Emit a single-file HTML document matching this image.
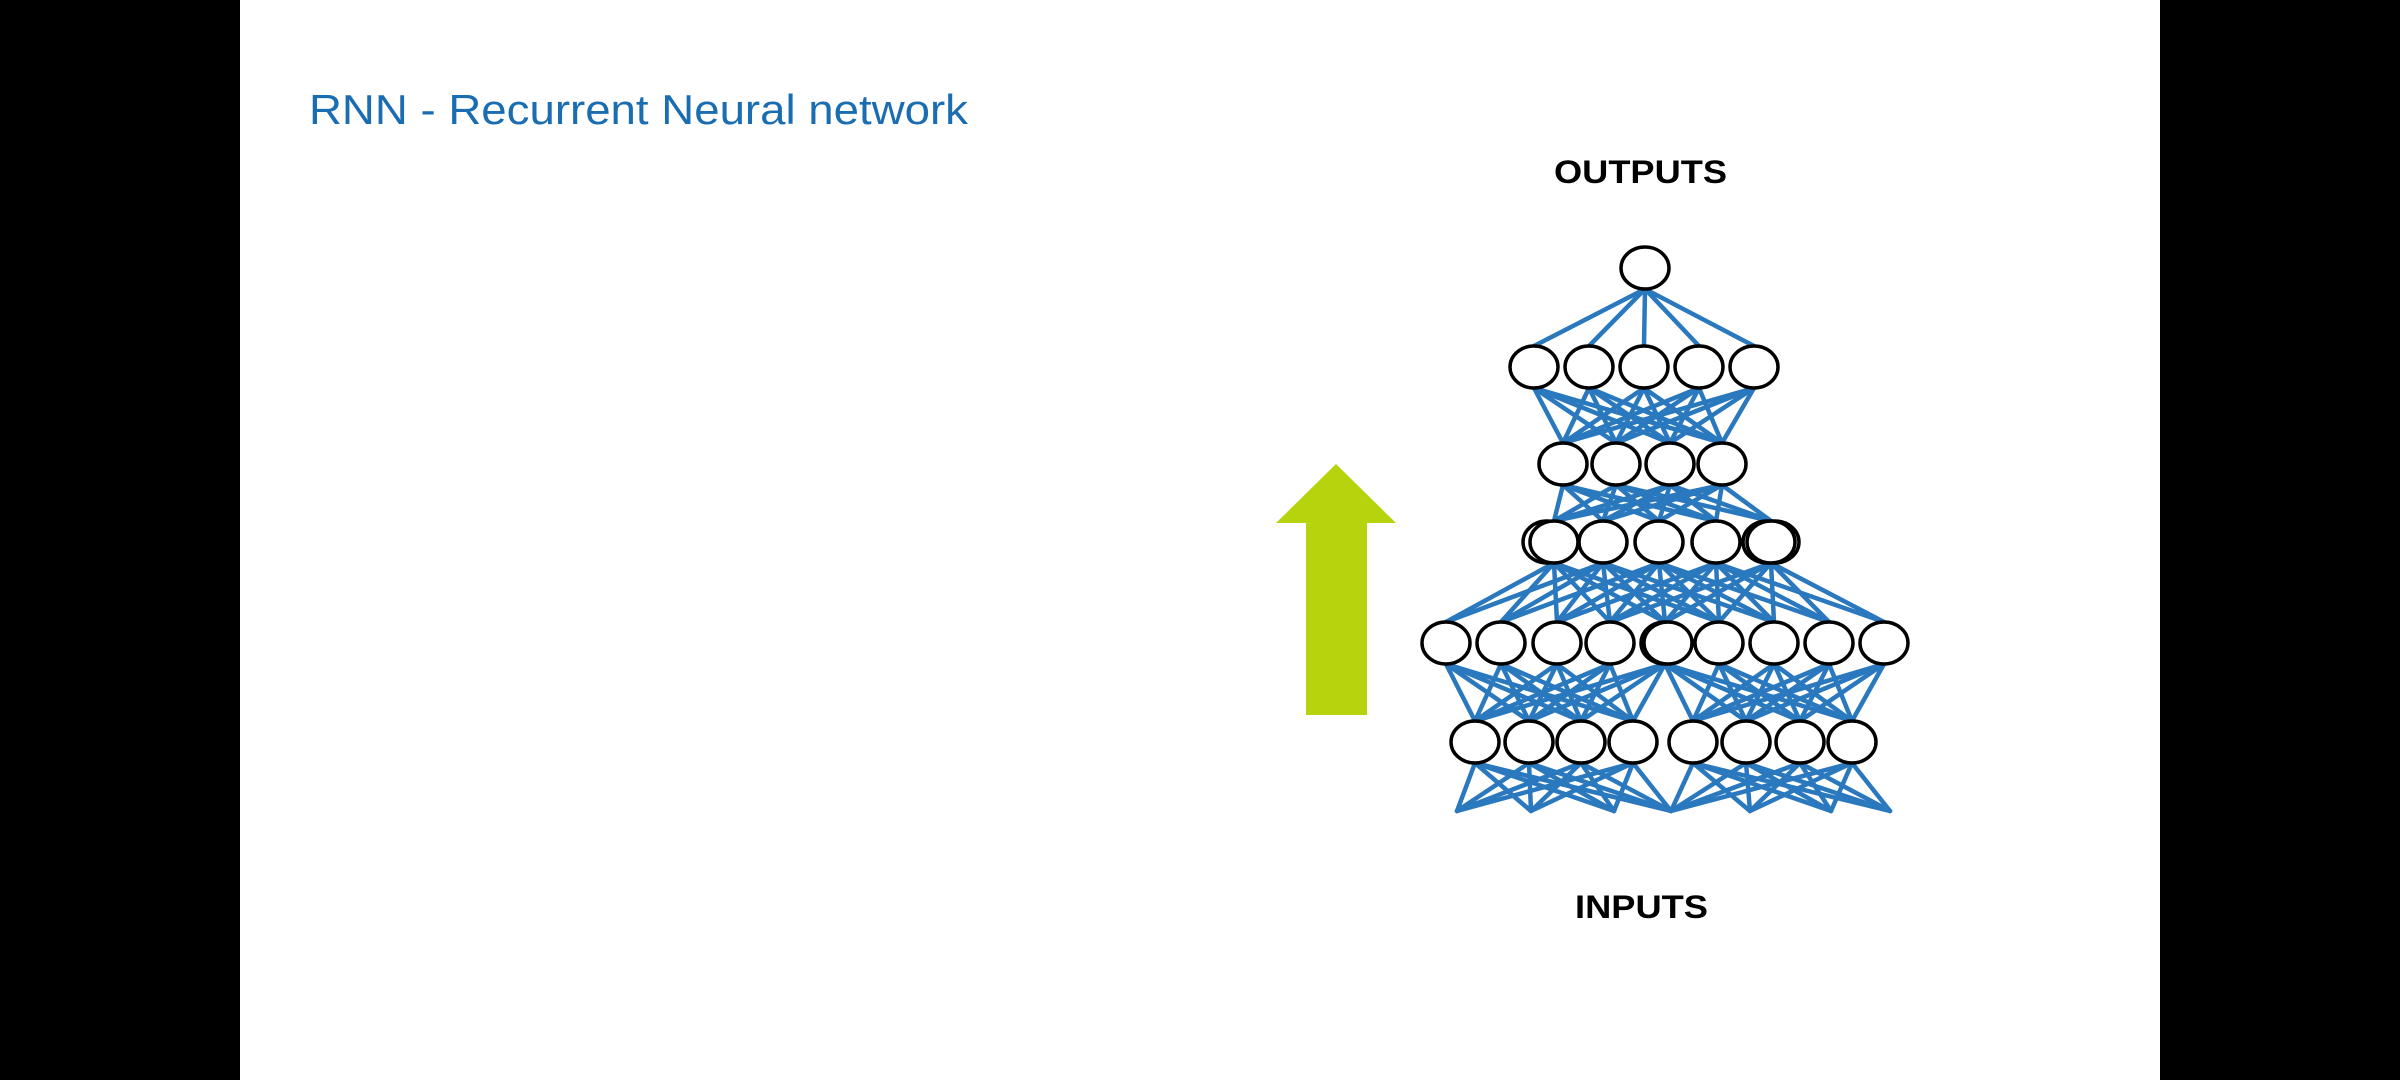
<!DOCTYPE html>
<html><head><meta charset="utf-8"><style>
html,body{margin:0;padding:0;background:#000;}
body{width:2400px;height:1080px;position:relative;overflow:hidden;}
</style></head><body>
<svg id="s" width="2400" height="1080" viewBox="0 0 2400 1080" xmlns="http://www.w3.org/2000/svg" style="position:absolute;left:0;top:0">
<rect x="0" y="0" width="2400" height="1080" fill="#000"/>
<rect x="240" y="0" width="1920" height="1080" fill="#fff"/>
<text x="309" y="124" font-family="Liberation Sans, sans-serif" font-size="42" fill="#1a6db0" textLength="659" lengthAdjust="spacingAndGlyphs">RNN - Recurrent Neural network</text>
<text x="1554" y="183" font-family="Liberation Sans, sans-serif" font-weight="bold" font-size="32" fill="#000" textLength="173" lengthAdjust="spacingAndGlyphs">OUTPUTS</text>
<text x="1575" y="918" font-family="Liberation Sans, sans-serif" font-weight="bold" font-size="32" fill="#000" textLength="133" lengthAdjust="spacingAndGlyphs">INPUTS</text>
<polygon points="1336,464 1396,523 1367,523 1367,715 1306,715 1306,523 1276,523" fill="#b6d30e"/>
<g id="edges" stroke="#2a78be" stroke-width="4.5" stroke-linecap="round"></g>
<g id="nodes" fill="#fff" stroke="#000" stroke-width="3.5"></g>
</svg>
<script>
var R=[
 {y:268,x:[1645]},
 {y:367,x:[1534,1589,1644,1699,1754]},
 {y:464,x:[1563,1616,1670,1722]},
 {y:542,x:[1554,1603,1659,1716,1771]},
 {y:643,x:[1446,1501,1557,1610,1665,1719,1774,1829,1884]},
 {y:742,x:[1475,1529,1581,1633,1693,1746,1800,1852]}
];
var RX=24,RY=21,E=document.getElementById('edges'),N=document.getElementById('nodes'),ns='http://www.w3.org/2000/svg';
function ln(a,b,c,d){var l=document.createElementNS(ns,'line');l.setAttribute('x1',a);l.setAttribute('y1',b);l.setAttribute('x2',c);l.setAttribute('y2',d);E.appendChild(l);}
function full(r1,r2,i1,i2,lim){for(var i=0;i<i1.length;i++)for(var j=0;j<i2.length;j++){var a=R[r1].x[i1[i]],b=R[r2].x[i2[j]];if(lim&&Math.abs(a-b)>lim)continue;ln(a,R[r1].y+RY,b,R[r2].y-RY);}}
function idx(n){var a=[];for(var i=0;i<n;i++)a.push(i);return a;}
full(0,1,[0],idx(5));
full(1,2,idx(5),idx(4));
full(2,3,idx(4),idx(5),170);
full(3,4,idx(5),idx(9),190);
full(4,5,[0,1,2,3,4],[0,1,2,3]);
full(4,5,[4,5,6,7,8],[4,5,6,7]);
var B=[1457,1531,1614,1671],B2=[1671,1750,1831,1890],by=811;
for(var i=0;i<4;i++)for(var j=0;j<4;j++){ln(R[5].x[i],R[5].y+RY,B[j],by);ln(R[5].x[i+4],R[5].y+RY,B2[j],by);}
function el(x,y){var e=document.createElementNS(ns,'ellipse');e.setAttribute('cx',x);e.setAttribute('cy',y);e.setAttribute('rx',RX);e.setAttribute('ry',RY);N.appendChild(e);}
el(1547,542);el(1767,542);el(1775,542);
R.forEach(function(r){r.x.forEach(function(x){el(x,r.y);});});
el(1668,643);
</script>
</body></html>
